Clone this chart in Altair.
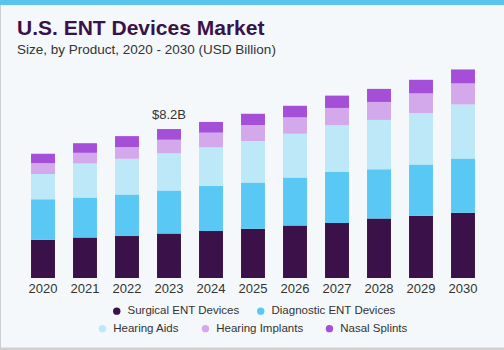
import altair as alt
import pandas as pd

years = ["2020", "2021", "2022", "2023", "2024", "2025", "2026", "2027", "2028", "2029", "2030"]
surgical = [2.11, 2.23, 2.31, 2.45, 2.59, 2.71, 2.89, 3.03, 3.28, 3.43, 3.59]
diagnostic = [2.22, 2.20, 2.29, 2.37, 2.49, 2.55, 2.64, 2.81, 2.70, 2.82, 2.99]
hearing_aids = [1.40, 1.87, 1.96, 2.04, 2.11, 2.28, 2.41, 2.56, 2.72, 2.83, 2.97]
hearing_implants = [0.58, 0.59, 0.64, 0.75, 0.81, 0.88, 0.90, 0.96, 0.99, 1.08, 1.16]
nasal_splints = [0.53, 0.53, 0.61, 0.59, 0.59, 0.62, 0.64, 0.68, 0.72, 0.75, 0.77]

names = ["Surgical ENT Devices", "Diagnostic ENT Devices", "Hearing Aids",
         "Hearing Implants", "Nasal Splints"]
colors = ["#3A1149", "#5AC8F5", "#BDE8F8", "#D4A9EC", "#A54FD9"]
series = [surgical, diagnostic, hearing_aids, hearing_implants, nasal_splints]

title_text = "U.S. ENT Devices Market"
subtitle_text = "Size, by Product, 2020 - 2030 (USD Billion)"

ann_year = "2023"
ann_label = "$8.2B"

FONT = "Liberation Sans"
TEXT = "#333333"

rows = []
for i, yr in enumerate(years):
    for k, vals in enumerate(series):
        rows.append({"year": yr, "product": names[k], "value": vals[i], "order": k})
df = pd.DataFrame(rows)

idx = years.index(ann_year)
ann_df = pd.DataFrame({"year": [ann_year],
                       "total": [sum(s[idx] for s in series)],
                       "label": [ann_label]})

xenc = alt.X("year:N",
             scale=alt.Scale(paddingInner=0.43, paddingOuter=0.215),
             axis=alt.Axis(title=None, labelAngle=0, ticks=False, domain=False,
                           labelFontSize=13, labelColor=TEXT, labelFont=FONT,
                           labelPadding=4, grid=False))
yscale = alt.Scale(domain=[0, 12])

base = alt.Chart(df).transform_stack(
    stack="value", groupby=["year"], as_=["v0", "v1"],
    sort=[alt.SortField("order", order="ascending")])

leg_common = dict(orient="none", direction="horizontal", title=None,
                  symbolType="circle", symbolSize=55, symbolStrokeWidth=0,
                  labelFont=FONT, labelFontSize=11.5, labelColor=TEXT,
                  labelOffset=5)

bars1 = base.transform_filter("datum.order < 2").mark_bar().encode(
    x=xenc,
    y=alt.Y("v0:Q", scale=yscale, axis=None),
    y2="v1:Q",
    color=alt.Color("product:N",
                    scale=alt.Scale(domain=names[:2], range=colors[:2]),
                    sort=names[:2],
                    legend=alt.Legend(legendX=89, legendY=245, columnPadding=15,
                                      **leg_common)),
)

bars2 = base.transform_filter("datum.order >= 2").mark_bar().encode(
    x=xenc,
    y=alt.Y("v0:Q", scale=yscale, axis=None),
    y2="v1:Q",
    color=alt.Color("product:N",
                    scale=alt.Scale(domain=names[2:], range=colors[2:]),
                    sort=names[2:],
                    legend=alt.Legend(legendX=74.7, legendY=262.5, columnPadding=20,
                                      **leg_common)),
)

ann = alt.Chart(ann_df).mark_text(font=FONT, fontSize=13, color=TEXT,
                                  baseline="alphabetic", dy=-10).encode(
    x=alt.X("year:N"),
    y=alt.Y("total:Q", scale=yscale),
    text="label:N",
)

one = pd.DataFrame({"t": [title_text], "s": [subtitle_text]})
top_bar = alt.Chart(one).mark_rect(color="#5BC4EC").encode(
    x=alt.value(-22), x2=alt.value(482), y=alt.value(-60), y2=alt.value(-55))
left_border = alt.Chart(one).mark_rect(color="#CFCFCF").encode(
    x=alt.value(-22), x2=alt.value(-21), y=alt.value(-55), y2=alt.value(290))
bottom_border = alt.Chart(one).mark_rect(color="#CFCFCF").encode(
    x=alt.value(-22), x2=alt.value(482), y=alt.value(287.5), y2=alt.value(290))

title_mark = alt.Chart(one).mark_text(
    font=FONT, fontSize=21, fontWeight="bold", color="#3A1149",
    align="left", baseline="alphabetic").encode(
    x=alt.value(-5), y=alt.value(-25), text="t:N")
subtitle_mark = alt.Chart(one).mark_text(
    font=FONT, fontSize=13.5, color=TEXT,
    align="left", baseline="alphabetic").encode(
    x=alt.value(-5), y=alt.value(-5.7), text="s:N")

chart = alt.layer(top_bar, left_border, bottom_border, title_mark, subtitle_mark,
                  bars1, bars2, ann).resolve_scale(
    color="independent"
).properties(
    width=462, height=218,
    padding={"left": 22, "top": 60, "right": 20, "bottom": 72},
    autosize=alt.AutoSizeParams(type="none"),
    background="#F4F8FB",
).configure_view(stroke=None)

chart.save("out.html", embed_options={"renderer": "svg", "actions": False})
